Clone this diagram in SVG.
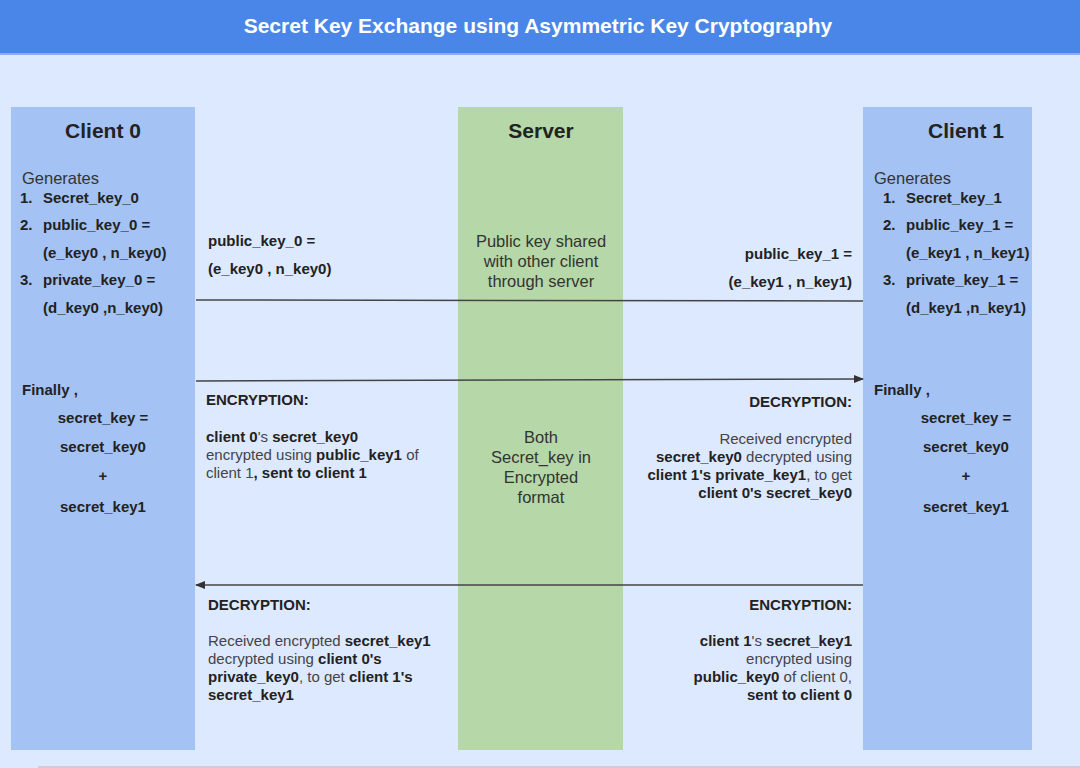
<svg xmlns="http://www.w3.org/2000/svg" width="1080" height="768" viewBox="0 0 1080 768">
<defs>
<marker id="arr" markerWidth="10" markerHeight="8" refX="9" refY="4" orient="auto" markerUnits="userSpaceOnUse">
<path d="M0,0 L10,4 L0,8 Z" fill="#333"/>
</marker>
<style>
text{font-family:"Liberation Sans",Arial,sans-serif;fill:#222;}
.title{font-size:21px;font-weight:bold;fill:#fff;}
.h{font-size:21px;font-weight:bold;}
.b{font-size:15px;font-weight:bold;}
.r{font-size:15px;fill:#444;}
.g{font-size:16.5px;fill:#333;}
.s{font-size:16.5px;fill:#333;}
.bb{font-weight:bold;fill:#222;}
.client{fill:#A4C2F4;}
.server{fill:#B6D7A8;}
.conn{stroke:#444;stroke-width:1.5;fill:none;}
</style>
</defs>
<rect x="0" y="0" width="1080" height="768" fill="#DDE9FF"/>
<rect x="0" y="0" width="1080" height="54" fill="#4A86E8"/>
<rect x="0" y="53" width="1080" height="2" fill="#8AB0F0"/>
<rect x="38" y="766" width="1042" height="2" fill="#D8C8D8"/>
<text class="title" x="538" y="33" text-anchor="middle">Secret Key Exchange using Asymmetric Key Cryptography</text>

<g id="client0">
<rect class="client" x="11" y="107" width="184" height="643"/>
<text class="h" x="103" y="138" text-anchor="middle">Client 0</text>
<text class="g" x="22" y="184">Generates</text>
<text class="b" x="20" y="203">1.</text><text class="b" x="43" y="203">Secret_key_0</text>
<text class="b" x="20" y="230">2.</text><text class="b" x="43" y="230">public_key_0 =</text>
<text class="b" x="43" y="258">(e_key0 , n_key0)</text>
<text class="b" x="20" y="285">3.</text><text class="b" x="43" y="285">private_key_0 =</text>
<text class="b" x="43" y="313">(d_key0 ,n_key0)</text>
<text class="b" x="22" y="395">Finally ,</text>
<text class="b" x="103" y="423" text-anchor="middle">secret_key =</text>
<text class="b" x="103" y="452" text-anchor="middle">secret_key0</text>
<text class="b" x="103" y="481" text-anchor="middle">+</text>
<text class="b" x="103" y="512" text-anchor="middle">secret_key1</text>
</g>

<g id="server">
<rect class="server" x="458" y="107" width="165" height="643"/>
<text class="h" x="541" y="138" text-anchor="middle">Server</text>
<text class="s" x="541" y="247" text-anchor="middle">Public key shared</text>
<text class="s" x="541" y="267" text-anchor="middle">with other client</text>
<text class="s" x="541" y="287" text-anchor="middle">through server</text>
<text class="s" x="541" y="443" text-anchor="middle">Both</text>
<text class="s" x="541" y="463" text-anchor="middle">Secret_key in</text>
<text class="s" x="541" y="483" text-anchor="middle">Encrypted</text>
<text class="s" x="541" y="503" text-anchor="middle">format</text>
</g>

<g id="client1">
<rect class="client" x="863" y="107" width="169" height="643"/>
<text class="h" x="966" y="138" text-anchor="middle">Client 1</text>
<text class="g" x="874" y="184">Generates</text>
<text class="b" x="883" y="203">1.</text><text class="b" x="906" y="203">Secret_key_1</text>
<text class="b" x="883" y="230">2.</text><text class="b" x="906" y="230">public_key_1 =</text>
<text class="b" x="906" y="258">(e_key1 , n_key1)</text>
<text class="b" x="883" y="285">3.</text><text class="b" x="906" y="285">private_key_1 =</text>
<text class="b" x="906" y="313">(d_key1 ,n_key1)</text>
<text class="b" x="874" y="395">Finally ,</text>
<text class="b" x="966" y="423" text-anchor="middle">secret_key =</text>
<text class="b" x="966" y="452" text-anchor="middle">secret_key0</text>
<text class="b" x="966" y="481" text-anchor="middle">+</text>
<text class="b" x="966" y="512" text-anchor="middle">secret_key1</text>
</g>

<g id="connectors">
<line class="conn" x1="196" y1="300" x2="863" y2="301"/>
<line class="conn" x1="196" y1="381" x2="863" y2="379" marker-end="url(#arr)"/>
<line class="conn" x1="863" y1="585" x2="196" y2="585" marker-end="url(#arr)"/>
</g>

<g id="labels">
<text class="b" x="208" y="246">public_key_0 =</text>
<text class="b" x="208" y="274">(e_key0 , n_key0)</text>
<text class="b" x="852" y="259" text-anchor="end">public_key_1 =</text>
<text class="b" x="852" y="287" text-anchor="end">(e_key1 , n_key1)</text>

<text class="b" x="206" y="405">ENCRYPTION:</text>
<text class="r" x="206" y="442"><tspan class="bb">client 0</tspan>'s <tspan class="bb">secret_key0</tspan></text>
<text class="r" x="206" y="460">encrypted using <tspan class="bb">public_key1</tspan> of</text>
<text class="r" x="206" y="478">client 1<tspan class="bb">, sent to client 1</tspan></text>

<text class="b" x="852" y="407" text-anchor="end">DECRYPTION:</text>
<text class="r" x="852" y="444" text-anchor="end">Received encrypted</text>
<text class="r" x="852" y="462" text-anchor="end"><tspan class="bb">secret_key0</tspan> decrypted using</text>
<text class="r" x="852" y="480" text-anchor="end"><tspan class="bb">client 1's private_key1</tspan>, to get</text>
<text class="b" x="852" y="498" text-anchor="end">client 0's secret_key0</text>

<text class="b" x="208" y="610">DECRYPTION:</text>
<text class="r" x="208" y="646">Received encrypted <tspan class="bb">secret_key1</tspan></text>
<text class="r" x="208" y="664">decrypted using <tspan class="bb">client 0's</tspan></text>
<text class="r" x="208" y="682"><tspan class="bb">private_key0</tspan>, to get <tspan class="bb">client 1's</tspan></text>
<text class="b" x="208" y="700">secret_key1</text>

<text class="b" x="852" y="610" text-anchor="end">ENCRYPTION:</text>
<text class="r" x="852" y="646" text-anchor="end"><tspan class="bb">client 1</tspan>'s <tspan class="bb">secret_key1</tspan></text>
<text class="r" x="852" y="664" text-anchor="end">encrypted using</text>
<text class="r" x="852" y="682" text-anchor="end"><tspan class="bb">public_key0</tspan> of client 0,</text>
<text class="b" x="852" y="700" text-anchor="end">sent to client 0</text>
</g>
</svg>
